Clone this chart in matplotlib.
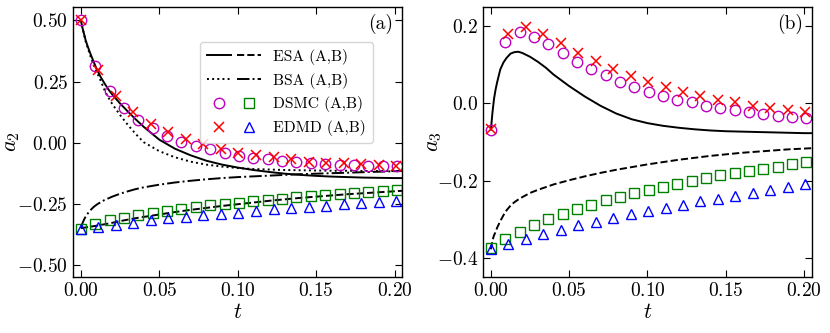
import matplotlib
matplotlib.use("Agg")
import matplotlib.pyplot as plt
from matplotlib.legend_handler import HandlerTuple
from matplotlib.lines import Line2D

plt.rcParams["font.family"] = "serif"
plt.rcParams["font.serif"] = ["cmr10", "DejaVu Serif"]
plt.rcParams["mathtext.fontset"] = "cm"
plt.rcParams["axes.formatter.use_mathtext"] = True
plt.rcParams["axes.unicode_minus"] = True

# ── DATA ──────────────────────────────────────────────────────────────────────

# theory curves
t_line = [0.0, 0.001, 0.002, 0.003, 0.004, 0.006, 0.008, 0.010, 0.0125, 0.015,
          0.0175, 0.020, 0.025, 0.030, 0.035, 0.040, 0.050, 0.060, 0.070, 0.080,
          0.090, 0.100, 0.110, 0.120, 0.130, 0.140, 0.150, 0.160, 0.170, 0.180,
          0.190, 0.200, 0.205]

esa_a2_A = [0.500, 0.470, 0.445, 0.420, 0.400, 0.365, 0.333, 0.302, 0.270, 0.243,
            0.218, 0.197, 0.160, 0.127, 0.095, 0.065, 0.012, -0.025, -0.052, -0.074,
            -0.090, -0.102, -0.112, -0.120, -0.127, -0.132, -0.136, -0.139, -0.141, -0.143,
            -0.144, -0.145, -0.145]
esa_a2_B = [-0.350, -0.349, -0.348, -0.347, -0.346, -0.344, -0.342, -0.340, -0.337, -0.334,
            -0.331, -0.328, -0.321, -0.315, -0.309, -0.304, -0.294, -0.284, -0.275, -0.267,
            -0.259, -0.252, -0.245, -0.238, -0.232, -0.226, -0.221, -0.216, -0.211, -0.207,
            -0.203, -0.199, -0.197]
bsa_a2_A = [0.500, 0.470, 0.443, 0.415, 0.395, 0.355, 0.320, 0.290, 0.255, 0.216,
            0.185, 0.158, 0.113, 0.072, 0.035, 0.002, -0.035, -0.060, -0.078, -0.090,
            -0.098, -0.104, -0.108, -0.110, -0.112, -0.113, -0.114, -0.115, -0.115, -0.116,
            -0.116, -0.116, -0.116]
bsa_a2_B = [-0.350, -0.330, -0.315, -0.303, -0.293, -0.277, -0.264, -0.254, -0.244, -0.235,
            -0.228, -0.221, -0.209, -0.199, -0.190, -0.183, -0.172, -0.163, -0.156, -0.150,
            -0.145, -0.141, -0.138, -0.135, -0.132, -0.129, -0.127, -0.125, -0.123, -0.121,
            -0.119, -0.117, -0.116]

esa_a3_A = [-0.068, -0.024, 0.012, 0.036, 0.055, 0.088, 0.106, 0.118, 0.129, 0.133,
            0.134, 0.131, 0.121, 0.108, 0.093, 0.075, 0.045, 0.018, -0.006, -0.026,
            -0.041, -0.051, -0.058, -0.063, -0.067, -0.070, -0.072, -0.073, -0.074, -0.075,
            -0.076, -0.077, -0.077]
esa_a3_B = [-0.378, -0.355, -0.342, -0.333, -0.322, -0.305, -0.290, -0.277, -0.265, -0.256,
            -0.249, -0.243, -0.232, -0.224, -0.217, -0.210, -0.199, -0.189, -0.180, -0.172,
            -0.165, -0.158, -0.152, -0.146, -0.141, -0.136, -0.132, -0.128, -0.125, -0.122,
            -0.119, -0.117, -0.116]

# simulation points
t_dsmc = [0.0, 0.0092, 0.0183, 0.0275, 0.0366, 0.0458, 0.0550, 0.0641, 0.0733, 0.0824,
          0.0916, 0.1008, 0.1099, 0.1191, 0.1282, 0.1374, 0.1466, 0.1557, 0.1649, 0.1740,
          0.1832, 0.1924, 0.2015]
t_edmd = [0.0, 0.0112, 0.0223, 0.0335, 0.0446, 0.0558, 0.0670, 0.0781, 0.0893, 0.1004,
          0.1116, 0.1228, 0.1339, 0.1451, 0.1562, 0.1674, 0.1786, 0.1897, 0.2009]

dsmc_a2_A = [0.500, 0.312, 0.210, 0.142, 0.094, 0.059, 0.029, 0.004, -0.012, -0.028,
             -0.042, -0.053, -0.061, -0.069, -0.076, -0.081, -0.084, -0.088, -0.091, -0.092,
             -0.095, -0.096, -0.097]
dsmc_a2_B = [-0.352, -0.334, -0.318, -0.308, -0.296, -0.288, -0.280, -0.270, -0.265, -0.256,
             -0.250, -0.246, -0.240, -0.233, -0.229, -0.224, -0.218, -0.214, -0.210, -0.205,
             -0.200, -0.197, -0.193]
edmd_a2_A = [0.500, 0.298, 0.192, 0.126, 0.078, 0.044, 0.015, -0.007, -0.024, -0.042,
             -0.049, -0.058, -0.069, -0.078, -0.082, -0.085, -0.089, -0.093, -0.096]
edmd_a2_B = [-0.352, -0.346, -0.335, -0.327, -0.318, -0.310, -0.303, -0.296, -0.292, -0.286,
             -0.280, -0.273, -0.267, -0.262, -0.258, -0.252, -0.248, -0.243, -0.237]

dsmc_a3_A = [-0.068, 0.159, 0.185, 0.173, 0.153, 0.130, 0.108, 0.089, 0.074, 0.056,
             0.042, 0.030, 0.020, 0.009, 0.003, -0.006, -0.013, -0.017, -0.022, -0.028,
             -0.032, -0.034, -0.037]
dsmc_a3_B = [-0.374, -0.352, -0.332, -0.316, -0.300, -0.287, -0.274, -0.263, -0.251, -0.242,
             -0.231, -0.224, -0.216, -0.208, -0.201, -0.194, -0.186, -0.179, -0.174, -0.169,
             -0.164, -0.158, -0.153]
edmd_a3_A = [-0.065, 0.179, 0.199, 0.179, 0.156, 0.132, 0.111, 0.089, 0.072, 0.055,
             0.042, 0.030, 0.020, 0.009, 0.003, -0.006, -0.013, -0.017, -0.022]
edmd_a3_B = [-0.377, -0.365, -0.351, -0.338, -0.327, -0.316, -0.307, -0.296, -0.287, -0.279,
             -0.270, -0.263, -0.254, -0.247, -0.240, -0.231, -0.224, -0.217, -0.210]

a2_ticks = [-0.50, -0.25, 0.00, 0.25, 0.50]
a3_ticks = [-0.4, -0.2, 0.0, 0.2]
t_ticks = [0.00, 0.05, 0.10, 0.15, 0.20]

# ── STYLE ─────────────────────────────────────────────────────────────────────

MS = 7.5
mk_circ = dict(marker="o", ls="none", mfc="none", mec="m", ms=MS, mew=1.0)
mk_sq = dict(marker="s", ls="none", mfc="none", mec="g", ms=MS, mew=1.0)
mk_x = dict(marker="x", ls="none", color="r", ms=MS, mew=1.1)
mk_tri = dict(marker="^", ls="none", mfc="none", mec="b", ms=MS, mew=1.0)
LW = 1.4


def style_axes(ax, ylab, yticks, ylim, label, ylab_x, ydec):
    ax.set_ylim(*ylim)
    ax.set_xticks(t_ticks)
    ax.set_yticks(yticks)
    ax.xaxis.set_major_formatter(matplotlib.ticker.FuncFormatter(lambda v, p: f"${v:.2f}$"))
    ax.yaxis.set_major_formatter(matplotlib.ticker.FuncFormatter(
        lambda v, p: f"${v:.{ydec}f}$"))
    ax.tick_params(direction="in", top=True, right=True, length=5, labelsize=14)
    ax.set_xlabel(r"$t$", fontsize=16, labelpad=2)
    ax.set_ylabel(ylab, fontsize=16)
    ax.yaxis.set_label_coords(ylab_x, 0.5)
    ax.text(0.975, 0.975, label, transform=ax.transAxes, ha="right", va="top", fontsize=14)
    for s in ax.spines.values():
        s.set_linewidth(1.0)


fig = plt.figure(figsize=(8.30, 3.33), dpi=100)
ax1 = fig.add_axes([0.088, 0.168, 0.396, 0.811])
ax2 = fig.add_axes([0.582, 0.168, 0.396, 0.811])

# panel (a)
ax1.plot(t_line, esa_a2_A, "k-", lw=LW)
ax1.plot(t_line, bsa_a2_A, "k:", lw=LW)
ax1.plot(t_line, esa_a2_B, "k--", lw=LW)
ax1.plot(t_line, bsa_a2_B, "k-.", lw=LW)
ax1.plot(t_dsmc, dsmc_a2_A, **mk_circ)
ax1.plot(t_edmd, edmd_a2_A, **mk_x)
ax1.plot(t_dsmc, dsmc_a2_B, **mk_sq)
ax1.plot(t_edmd, edmd_a2_B, **mk_tri)
style_axes(ax1, r"$a_2$", a2_ticks, (-0.55, 0.555), "(a)", -0.155, 2)
ax1.set_xlim(-0.005, 0.2045)

h_esa = (Line2D([], [], color="k", ls="-", lw=LW), Line2D([], [], color="k", ls="--", lw=LW))
h_bsa = (Line2D([], [], color="k", ls=":", lw=LW), Line2D([], [], color="k", ls="-.", lw=LW))
h_dsmc = (Line2D([], [], **mk_circ), Line2D([], [], **mk_sq))
h_edmd = (Line2D([], [], **mk_x), Line2D([], [], **mk_tri))
leg = ax1.legend([h_esa, h_bsa, h_dsmc, h_edmd],
                 ["ESA (A,B)", "BSA (A,B)", "DSMC (A,B)", "EDMD (A,B)"],
                 handler_map={tuple: HandlerTuple(ndivide=None, pad=0.4)},
                 loc="upper right", bbox_to_anchor=(0.937, 0.9), fontsize=11.2,
                 handlelength=3.5, handletextpad=0.8, labelspacing=0.5,
                 borderpad=0.45, framealpha=0.8, fancybox=True)
leg.get_frame().set_edgecolor("#cccccc")

# panel (b)
ax2.plot(t_line, esa_a3_A, "k-", lw=LW)
ax2.plot(t_line, esa_a3_B, "k--", lw=LW)
ax2.plot(t_dsmc, dsmc_a3_A, **mk_circ)
ax2.plot(t_edmd, edmd_a3_A, **mk_x)
ax2.plot(t_dsmc, dsmc_a3_B, **mk_sq)
ax2.plot(t_edmd, edmd_a3_B, **mk_tri)
style_axes(ax2, r"$a_3$", a3_ticks, (-0.45, 0.25), "(b)", -0.12, 1)
ax2.set_xlim(-0.005, 0.205)

fig.savefig("out.png", dpi=100)
